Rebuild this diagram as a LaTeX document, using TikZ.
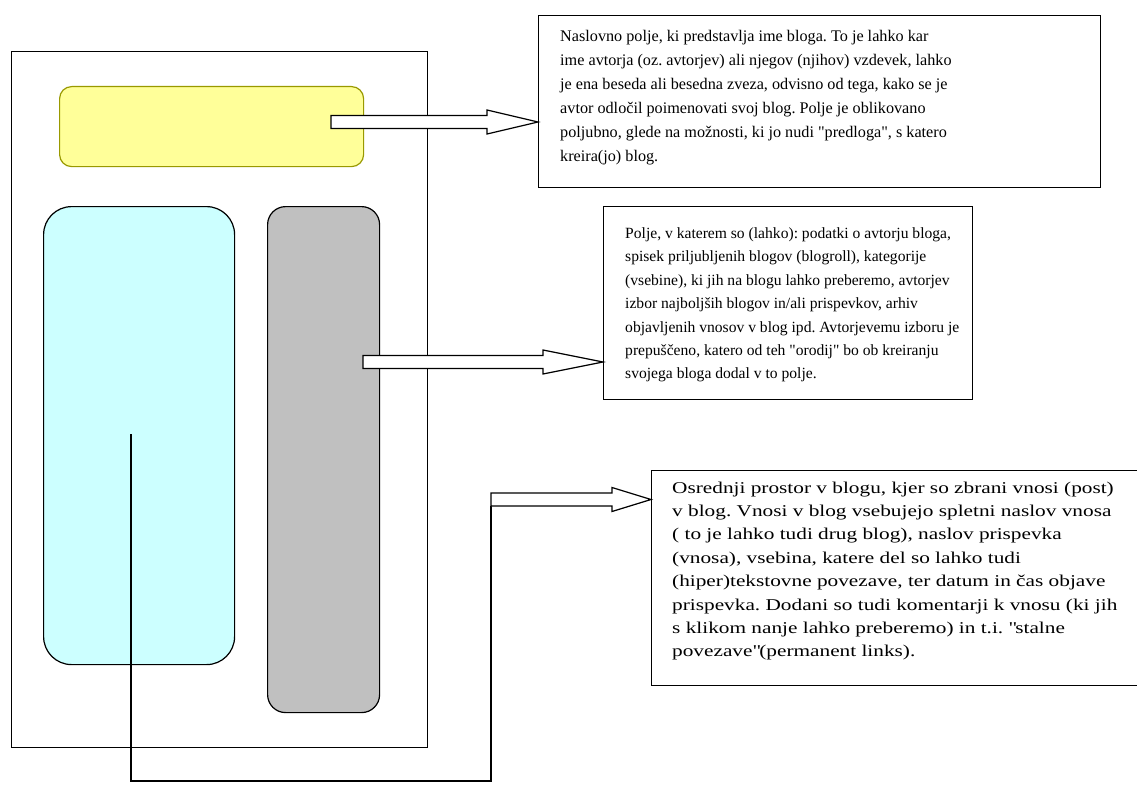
\documentclass[tikz,border=0pt]{standalone}
\usepackage{fontspec}
\setmainfont{Liberation Serif}
\newfontfamily\widefont{Liberation Serif}[FakeStretch=1.29]
\usetikzlibrary{calc}

\definecolor{titleyellow}{RGB}{255,255,153}
\definecolor{titleolive}{RGB}{153,153,0}
\definecolor{postcyan}{RGB}{204,255,255}
\definecolor{sidegray}{RGB}{192,192,192}

% hollow block arrow: tail, tip, head length
\newcommand{\hollowarrow}[3]{%
  \draw[arrowbody] ($(#1)+(0,-6.5)$) -- ($(#2)+(-#3,-6.5)$) -- ($(#2)+(-#3,-12)$) -- (#2)
    -- ($(#2)+(-#3,12)$) -- ($(#2)+(-#3,6.5)$) -- ($(#1)+(0,6.5)$) -- cycle;}
\newcommand{\qd}{\textquotedbl}

\begin{document}
\frenchspacing
\begin{tikzpicture}[x=1pt, y=-1pt,
    field/.style = {draw, line width=1.2pt, anchor=north west, inner sep=0pt},
    desc/.style = {draw, line width=1.3pt, anchor=north west, inner sep=0pt},
    desctext/.style = {anchor=north west, inner sep=0pt, align=left},
    arrowbody/.style = {draw, line width=1.2pt, fill=white}]
    \useasboundingbox (0,0) rectangle (1137,789);

    % blog page
    \node[field, minimum width=416pt, minimum height=696pt] (page) at (11,51) {};
    \node[field, draw=titleolive, fill=titleyellow, rounded corners=12pt,
      minimum width=304pt, minimum height=80pt] (naslov) at (59,86) {};
    \node[field, fill=postcyan, rounded corners=28pt,
      minimum width=191pt, minimum height=458pt] (vsebina) at (43,206) {};
    \node[field, fill=sidegray, rounded corners=18pt,
      minimum width=112pt, minimum height=506pt] (stranski) at (267,206) {};

    % descriptions
    \node[desc, minimum width=562pt, minimum height=172pt] (naslovbox) at (538,15) {};
    \node[desc, minimum width=369pt, minimum height=193pt] (stranskibox) at (603,206) {};
    \node[desc, minimum width=499pt, minimum height=215pt] (vsebinabox) at (651,470) {};

    \node[desctext, font=\fontsize{16.2pt}{24pt}\selectfont] (naslovtext)
      at ($(naslovbox.north west)+(22,15.5)$) {Naslovno polje, ki predstavlja ime bloga. To je lahko kar\\
      ime avtorja (oz. avtorjev) ali njegov (njihov) vzdevek, lahko\\
      je ena beseda ali besedna zveza, odvisno od tega, kako se je\\
      avtor odločil poimenovati svoj blog. Polje je oblikovano\\
      poljubno, glede na možnosti, ki jo nudi \qd predloga\qd, s katero\\
      kreira(jo) blog.};
    \node[desctext, font=\fontsize{15.6pt}{23.4pt}\selectfont] (stranskitext)
      at ($(stranskibox.north west)+(22,21.5)$) {Polje, v katerem so (lahko): podatki o avtorju bloga,\\
      spisek priljubljenih blogov (blogroll), kategorije\\
      (vsebine), ki jih na blogu lahko preberemo, avtorjev\\
      izbor najboljših blogov in/ali prispevkov, arhiv\\
      objavljenih vnosov v blog ipd. Avtorjevemu izboru je\\
      prepuščeno, katero od teh \qd orodij\qd{} bo ob kreiranju\\
      svojega bloga dodal v to polje.};
    \node[desctext, font=\widefont\fontsize{16.5pt}{23.4pt}\selectfont] (vsebinatext)
      at ($(vsebinabox.north west)+(21,11.5)$) {Osrednji prostor v blogu, kjer so zbrani vnosi (post)\\
      v blog. Vnosi v blog vsebujejo spletni naslov vnosa\\
      ( to je lahko tudi drug blog), naslov prispevka\\
      (vnosa), vsebina, katere del so lahko tudi\\
      (hiper)tekstovne povezave, ter datum in čas objave\\
      prispevka. Dodani so tudi komentarji k vnosu (ki jih\\
      s klikom nanje lahko preberemo) in t.i. \qd stalne\\
      povezave\qd(permanent links).};

    % arrows
    \coordinate (a1) at (331,122);
    \coordinate (t1) at (a1 -| naslovbox.west);
    \hollowarrow{a1}{t1}{51}

    \coordinate (a2) at (363,362);
    \coordinate (t2) at (a2 -| stranskibox.west);
    \hollowarrow{a2}{t2}{60}

    \coordinate (c3) at (131,434);
    \coordinate (a3) at (491,499.5);
    \coordinate (t3) at (a3 -| vsebinabox.west);
    \draw[line width=1.2pt] (c3) -- ++(0,347) -| ($(a3)+(0,6.5)$);
    \hollowarrow{a3}{t3}{39}
\end{tikzpicture}
\end{document}
